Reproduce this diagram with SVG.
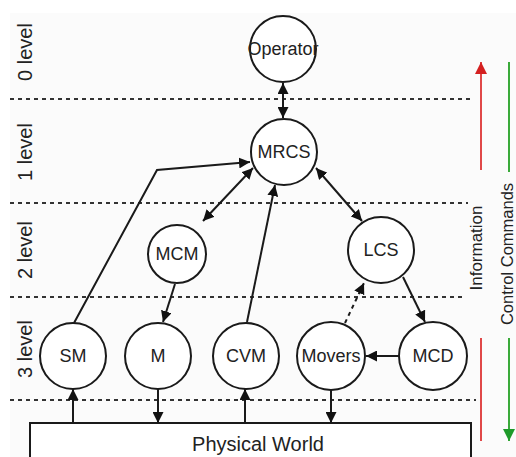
<svg xmlns="http://www.w3.org/2000/svg" width="516" height="457" viewBox="0 0 516 457">
<style>
.node circle{fill:#fff;stroke:#1a1a1a;stroke-width:2}
.node text,.lbl{font-family:"Liberation Sans",Arial,sans-serif;fill:#222;text-anchor:middle}
.node text{font-size:18px}
.lvl{font-family:"Liberation Sans",Arial,sans-serif;font-size:20px;fill:#222;text-anchor:middle}
.div{stroke:#333;stroke-width:2;stroke-dasharray:4 4;fill:none}
.c{stroke:#1a1a1a;stroke-width:2;fill:none}
</style>
<defs>
<marker id="ah" viewBox="0 0 10 10" refX="10" refY="5" markerWidth="11" markerHeight="11" markerUnits="userSpaceOnUse" orient="auto-start-reverse">
<path d="M0,0 L10,5 L0,10 Z" fill="#111"/>
</marker>
<marker id="ahr" viewBox="0 0 10 10" refX="10" refY="5" markerWidth="12" markerHeight="12" markerUnits="userSpaceOnUse" orient="auto">
<path d="M0,0 L10,5 L0,10 Z" fill="#d42020"/>
</marker>
<marker id="ahg" viewBox="0 0 10 10" refX="10" refY="5" markerWidth="12" markerHeight="12" markerUnits="userSpaceOnUse" orient="auto">
<path d="M0,0 L10,5 L0,10 Z" fill="#1e9a2a"/>
</marker>
</defs>
<rect x="10" y="13" width="506" height="444" fill="#fbfbfb"/>
<g id="levels">
<line class="div" x1="10" y1="99" x2="472" y2="99"/>
<line class="div" x1="10" y1="203" x2="468" y2="203"/>
<line class="div" x1="10" y1="297" x2="462" y2="297"/>
<line class="div" x1="10" y1="400" x2="476" y2="400"/>
<text class="lvl" transform="translate(32,52) rotate(-90)">0 level</text>
<text class="lvl" transform="translate(32,152) rotate(-90)">1 level</text>
<text class="lvl" transform="translate(32,250) rotate(-90)">2 level</text>
<text class="lvl" transform="translate(32,349) rotate(-90)">3 level</text>
</g>
<g id="physical-world">
<rect x="30" y="423" width="441" height="40" fill="#fff" stroke="#1a1a1a" stroke-width="2"/>
<text class="lbl" x="258" y="451" font-size="20">Physical World</text>
</g>
<g id="connectors">
<line class="c" x1="283" y1="83" x2="283" y2="118" marker-start="url(#ah)" marker-end="url(#ah)"/>
<polyline class="c" points="74,323 157,170 250,162" marker-end="url(#ah)"/>
<line class="c" x1="203" y1="221" x2="253" y2="168" marker-start="url(#ah)" marker-end="url(#ah)"/>
<line class="c" x1="175" y1="284" x2="163" y2="322" marker-end="url(#ah)"/>
<line class="c" x1="247" y1="322" x2="275" y2="185" marker-end="url(#ah)"/>
<line class="c" x1="316" y1="168" x2="362" y2="221" marker-start="url(#ah)" marker-end="url(#ah)"/>
<line class="c" x1="345" y1="323" x2="364" y2="283" stroke-dasharray="4 4" marker-end="url(#ah)"/>
<line class="c" x1="403" y1="277" x2="425" y2="322" marker-end="url(#ah)"/>
<line class="c" x1="399" y1="356" x2="366" y2="356" marker-end="url(#ah)"/>
<line class="c" x1="73" y1="423" x2="73" y2="389" marker-end="url(#ah)"/>
<line class="c" x1="158" y1="389" x2="158" y2="423" marker-end="url(#ah)"/>
<line class="c" x1="245" y1="423" x2="245" y2="389" marker-end="url(#ah)"/>
<line class="c" x1="331" y1="390" x2="331" y2="423" marker-end="url(#ah)"/>
</g>
<g id="operator" class="node"><circle cx="283" cy="49" r="33"/><text x="283" y="55" font-size="15.5">Operator</text></g>
<g id="mrcs" class="node"><circle cx="284" cy="152" r="33"/><text x="284" y="158">MRCS</text></g>
<g id="mcm" class="node"><circle cx="177" cy="254" r="29"/><text x="177" y="260">MCM</text></g>
<g id="lcs" class="node"><circle cx="381" cy="250" r="33"/><text x="381" y="256">LCS</text></g>
<g id="sm" class="node"><circle cx="73" cy="356" r="33"/><text x="73" y="362">SM</text></g>
<g id="m" class="node"><circle cx="158" cy="356" r="33"/><text x="158" y="362">M</text></g>
<g id="cvm" class="node"><circle cx="246" cy="356" r="33"/><text x="246" y="362">CVM</text></g>
<g id="movers" class="node"><circle cx="331" cy="356" r="34"/><text x="331" y="362">Movers</text></g>
<g id="mcd" class="node"><circle cx="433" cy="356" r="34"/><text x="433" y="362">MCD</text></g>
<g id="legend">
<line x1="481" y1="170" x2="481" y2="62" stroke="#e04848" stroke-width="2" marker-end="url(#ahr)"/>
<line x1="481" y1="338" x2="481" y2="441" stroke="#e04848" stroke-width="2"/>
<line x1="509" y1="62" x2="509" y2="172" stroke="#3aaa3a" stroke-width="2"/>
<line x1="509" y1="338" x2="509" y2="441" stroke="#3aaa3a" stroke-width="2" marker-end="url(#ahg)"/>
<text class="lbl" font-size="17" transform="translate(482,248) rotate(-90)">Information</text>
<text class="lbl" font-size="16.5" transform="translate(513,254) rotate(-90)">Control Commands</text>
</g>
</svg>
